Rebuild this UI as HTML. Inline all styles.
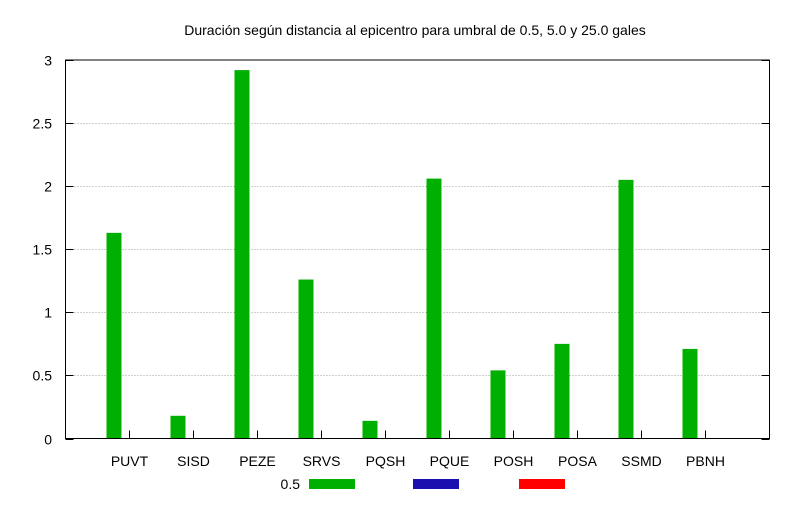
<!DOCTYPE html>
<html><head><meta charset="utf-8"><style>
body{margin:0;background:#fff}
svg text{font-family:"Liberation Sans",sans-serif;font-size:14px;fill:#000}
</style></head><body>
<svg id="c" width="800" height="500">
<text x="415" y="35" text-anchor="middle">Duración según distancia al epicentro para umbral de 0.5, 5.0 y 25.0 gales</text>
<g id="grid"></g><g id="bars"></g><g id="axes"></g><g id="legend"></g>
</svg>
<script>
const categories=["PUVT","SISD","PEZE","SRVS","PQSH","PQUE","POSH","POSA","SSMD","PBNH"];
const s05=[1.63,0.18,2.92,1.26,0.14,2.06,0.54,0.75,2.05,0.71];
const s5=[0,0,0,0,0,0,0,0,0,0];
const s25=[0,0,0,0,0,0,0,0,0,0];
const yTicks=[0,0.5,1,1.5,2,2.5,3];
const yTickLabels=["0","0.5","1","1.5","2","2.5","3"];
const seriesNames=["0.5","5.0","25.0"];
const NS="http://www.w3.org/2000/svg";
const L=65.5,R=769.5,T=60,B=438.5;
const y=v=>B-(v/3)*(B-T);
const step=(R-L)/(categories.length+1);
const xc=i=>L+step*(i+1);
function mk(p,tag,a){const e=document.createElementNS(NS,tag);for(const k in a)e.setAttribute(k,a[k]);p.appendChild(e);return e;}
const grid=document.getElementById('grid'),bars=document.getElementById('bars'),axes=document.getElementById('axes'),leg=document.getElementById('legend');
yTicks.forEach((t,i)=>{
  const yy=Math.round(y(t))+0.5;
  if(t>0&&t<3){const g=mk(grid,'line',{x1:L,x2:R,y1:yy,y2:yy,stroke:'#a0a0a0','stroke-dasharray':'1,2'});
  
  }
  mk(axes,'line',{x1:L,x2:L+8,y1:yy,y2:yy,stroke:'#000'});
  mk(axes,'line',{x1:R,x2:R-8,y1:yy,y2:yy,stroke:'#000'});
  const tx=mk(axes,'text',{x:52,y:yy+5,'text-anchor':'end'});tx.textContent=yTickLabels[i];
  
  
});
const colors=["#00b000","#1a10b0","#ff0000"];
const series=[s05,s5,s25];
const bw=15;
categories.forEach((c,i)=>{
  series.forEach((s,j)=>{
    const x0=xc(i)-23+j*bw;
    const h=B-y(s[j===0?i:i]);
    if(s[i]>0){const r=mk(bars,'rect',{x:x0,y:y(s[i]),width:bw,height:B-y(s[i]),fill:colors[j]});
    
    }
  });
  mk(axes,'line',{x1:xc(i),x2:xc(i),y1:B,y2:B-8,stroke:'#000'});
  const t=mk(axes,'text',{x:xc(i),y:466,'text-anchor':'middle'});t.textContent=c;
  
  
});
mk(axes,'rect',{x:L,y:T,width:R-L,height:B-T,fill:'none',stroke:'#000'});
const lx=[300,451,557];
seriesNames.forEach((n,j)=>{
  const t=mk(leg,'text',{x:lx[j],y:489,'text-anchor':'end'});t.textContent=n;
  
  
  const r=mk(leg,'rect',{x:[309,413,519][j],y:479,width:46,height:10,fill:colors[j]});
  
  
});
</script>
</body></html>
